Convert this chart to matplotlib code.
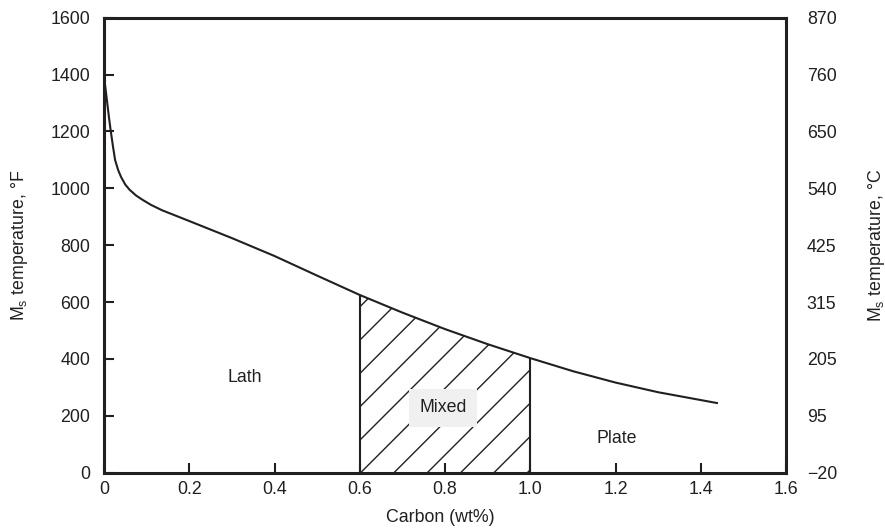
import numpy as np
import matplotlib
matplotlib.use("Agg")
import matplotlib.pyplot as plt

# ---- data ----
carbon = [0.0, 0.004, 0.008, 0.012, 0.016, 0.021, 0.026, 0.033, 0.04, 0.05, 0.06, 0.075,
          0.09, 0.11, 0.136, 0.2, 0.3, 0.4, 0.5, 0.6, 0.7, 0.8, 0.9, 1.0, 1.1, 1.2, 1.3, 1.438]
ms_F = [1395, 1345, 1295, 1245, 1200, 1148, 1100, 1065, 1040, 1013, 995, 975,
        960, 942, 923, 885, 825, 762, 693, 625, 563, 505, 452, 403, 357, 317, 283, 245]
mixed_bounds = [0.6, 1.0]
x_ticks = [0, 0.2, 0.4, 0.6, 0.8, 1.0, 1.2, 1.4, 1.6]
x_ticklabels = ["0", "0.2", "0.4", "0.6", "0.8", "1.0", "1.2", "1.4", "1.6"]
yF_ticks = [0, 200, 400, 600, 800, 1000, 1200, 1400, 1600]
yC_ticklabels = ["\u221220", "95", "205", "315", "425", "540", "650", "760", "870"]
regions = ["Lath", "Mixed", "Plate"]
region_pos = [(0.331, 336), (0.795, 228), (1.204, 122)]

# ---- style ----
ink = "#231f20"
plt.rcParams["font.family"] = ["Liberation Sans", "DejaVu Sans"]
plt.rcParams["mathtext.fontset"] = "custom"
plt.rcParams["mathtext.rm"] = "Liberation Sans"
plt.rcParams["mathtext.it"] = "Liberation Sans"
plt.rcParams["hatch.linewidth"] = 0.5
plt.rcParams["hatch.color"] = ink
fs = 6.4

fig = plt.figure(figsize=(885 / 200, 529 / 200), dpi=200)
ax = fig.add_axes([104 / 885, (529 - 472.7) / 529, 682 / 885, 455 / 529])

ax.plot(carbon, ms_F, color=ink, lw=0.75, zorder=3)

xf = np.linspace(mixed_bounds[0], mixed_bounds[1], 200)
yf = np.interp(xf, carbon, ms_F)
ax.fill_between(xf, 0, yf, facecolor="none", edgecolor=ink, hatch="//", linewidth=0, zorder=1)
for xb in mixed_bounds:
    ax.vlines(xb, 0, np.interp(xb, carbon, ms_F), color=ink, lw=0.75, zorder=3)

for name, (tx, ty) in zip(regions, region_pos):
    kw = {}
    if name == "Mixed":
        kw["bbox"] = dict(boxstyle="square,pad=0.6", facecolor="#f0f0f0", edgecolor="none")
    ax.text(tx, ty, name, ha="center", va="center", fontsize=fs, color=ink, zorder=4, **kw)

ax.set_xlim(0, 1.6)
ax.set_ylim(0, 1600)
ax.set_xticks(x_ticks)
ax.set_xticklabels(x_ticklabels)
ax.set_yticks(yF_ticks)
ax.tick_params(axis="both", direction="in", length=3.6, width=0.75, color=ink,
               labelsize=fs, labelcolor=ink)
ax.tick_params(axis="x", pad=3)
ax.tick_params(axis="y", pad=5)
for s in ax.spines.values():
    s.set_linewidth(1.1)
    s.set_color(ink)

ax.set_xlabel("Carbon (wt%)", fontsize=fs, color=ink)
ax.xaxis.set_label_coords((440 - 104) / 682, (472.7 - 517) / 455)
ax.xaxis.label.set_va("center")
ax.set_ylabel("M$_\\mathrm{s}$ temperature, \u00b0F", fontsize=fs, color=ink)
ax.yaxis.set_label_coords((20 - 104) / 682, 0.5)
ax.yaxis.label.set_va("center")

ax2 = ax.twinx()
ax2.set_ylim(0, 1600)
ax2.set_yticks(yF_ticks)
ax2.set_yticklabels(yC_ticklabels)
ax2.tick_params(axis="y", length=0, pad=7.5, labelsize=fs, labelcolor=ink)
for s in ax2.spines.values():
    s.set_visible(False)
ax2.set_ylabel("M$_\\mathrm{s}$ temperature, \u00b0C", fontsize=fs, color=ink, rotation=90)
ax2.yaxis.set_label_coords((876 - 104) / 682, 0.5)
ax2.yaxis.label.set_va("center")

fig.savefig("out.png", dpi=200)
